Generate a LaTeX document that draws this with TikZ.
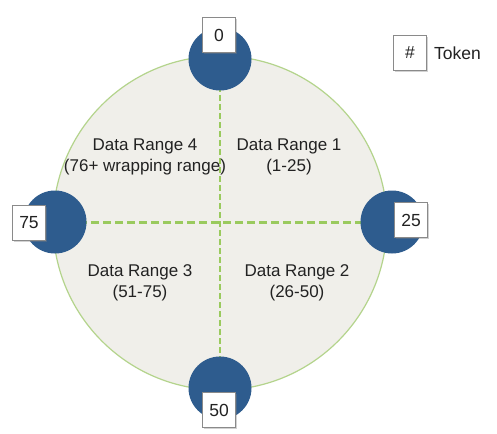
\documentclass[tikz,border=0pt]{standalone}
\usepackage{fontspec}
\setmainfont{Liberation Sans}
\usetikzlibrary{shadows,backgrounds}
\definecolor{ringfill}{HTML}{F0EFEA}
\definecolor{ringdraw}{HTML}{B4D48C}
\definecolor{dashgreen}{HTML}{9ACA5E}
\definecolor{tokblue}{HTML}{2E5C8E}
\definecolor{boxborder}{HTML}{8A8A8A}
\definecolor{txt}{HTML}{222222}
\tikzset{
  tokdot/.style={circle, fill=tokblue, minimum size=63pt, inner sep=0pt},
  tokbox/.style={draw=boxborder, line width=0.8pt, fill=white, minimum width=33pt, minimum height=35pt, inner sep=0pt, text=txt, font=\fontsize{17.5}{20}\selectfont, drop shadow={shadow xshift=1.5pt, shadow yshift=-1.5pt, opacity=0.35}},
  rangetxt/.style={align=center, text=txt, font=\fontsize{17}{21}\selectfont, inner sep=0pt},
  splitline/.style={draw=dashgreen, dash pattern=on 8pt off 4pt}
}
\begin{document}
\begin{tikzpicture}[x=1pt,y=-1pt]
\useasboundingbox (0,0) rectangle (497,433);
% token circles
\node[tokdot] (t0) at (220,59) {};
\node[tokdot] (t75) at (55,222) {};
\node[tokdot] (t25) at (392,222) {};
\node[tokdot] (t50) at (220,388) {};
% token boxes
\node[tokbox] (b0) at (219,35) {0};
\node[tokbox] (b75) at (29,223) {75};
\node[tokbox] (b25) at (411,220) {25};
\node[tokbox] (b50) at (219,410) {50};
% legend
\node[tokbox] (leg) at (410,53) {\#};
\node[anchor=west, text=txt, font=\fontsize{17.5}{20}\selectfont, inner sep=0pt] (legtxt) at (434,53) {Token};
% range labels
\node[rangetxt] (r4) at (145,157) {Data Range 4\\(76+ wrapping range)};
\node[rangetxt] (r1) at (289,157) {Data Range 1\\(1-25)};
\node[rangetxt] (r3) at (140,283) {Data Range 3\\(51-75)};
\node[rangetxt] (r2) at (297,283) {Data Range 2\\(26-50)};
\begin{pgfonlayer}{background}
\fill[white] (0,0) rectangle (497,433);
\node[circle, draw=ringdraw, fill=ringfill, line width=1.2pt, minimum size=334pt, inner sep=0pt] (ring) at (220,223) {};
\draw[splitline, line width=2pt, dash pattern=on 6pt off 3pt] (t0.center) -- (t50.center);
\draw[splitline, line width=3pt] (t75.center) -- (t25.center);
\end{pgfonlayer}
\end{tikzpicture}
\end{document}
